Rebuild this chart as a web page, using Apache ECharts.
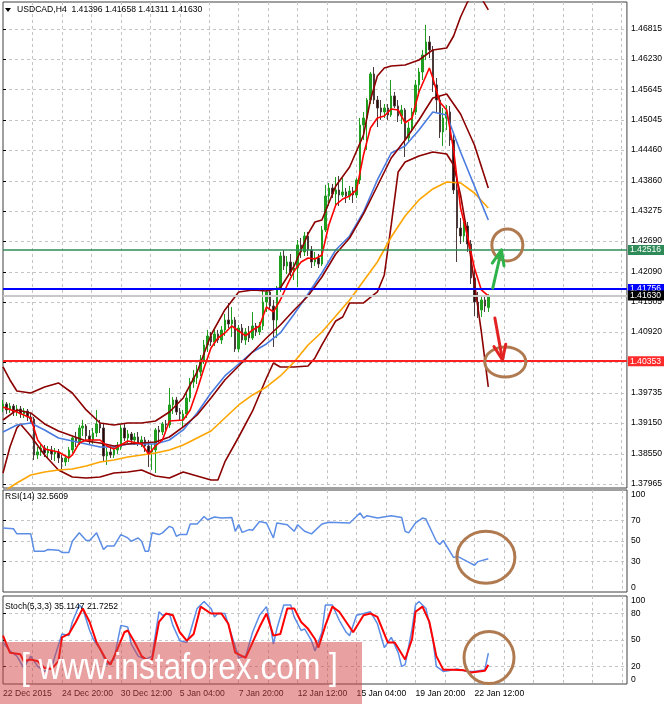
<!DOCTYPE html>
<html>
<head>
<meta charset="utf-8">
<script src="https://cdn.jsdelivr.net/npm/echarts@6.0.0/dist/echarts.min.js"></script>
<style>
html, body { margin: 0; padding: 0; background: #fff; }
#chart { width: 665px; height: 704px; }
</style>
</head>
<body>
<div id="chart"></div>
<script>
// USDCAD H4, one candle per bar: [open, close, low, high]
var candles = [
[1.39443,1.39521,1.39366,1.39599],[1.39521,1.39405,1.39327,1.39560],[1.39405,1.39482,1.39346,1.39541],[1.39482,1.39366,1.39288,1.39521],
[1.39366,1.39424,1.39288,1.39502],[1.39424,1.39327,1.39249,1.39482],[1.39327,1.39385,1.39249,1.39443],[1.39385,1.39268,1.39191,1.39424],
[1.39268,1.39229,1.39152,1.39346],[1.39229,1.38529,1.38432,1.39268],[1.38529,1.38588,1.38451,1.38685],[1.38588,1.38665,1.38510,1.38743],
[1.38665,1.38568,1.38490,1.38724],[1.38568,1.38627,1.38471,1.38704],[1.38627,1.38549,1.38432,1.38704],[1.38549,1.38588,1.38413,1.38665],
[1.38588,1.38471,1.38374,1.38646],[1.38471,1.38393,1.38238,1.38529],[1.38393,1.38471,1.38315,1.38529],[1.38471,1.38627,1.38393,1.38685],
[1.38627,1.38860,1.38568,1.38899],[1.38860,1.38782,1.38685,1.38977],[1.38782,1.39054,1.38724,1.39113],[1.39054,1.39093,1.38899,1.39210],
[1.39093,1.38899,1.38821,1.39132],[1.38899,1.38821,1.38743,1.39016],[1.38821,1.38957,1.38743,1.39054],[1.38957,1.39132,1.38879,1.39405],
[1.39132,1.39054,1.38957,1.39210],[1.39054,1.38510,1.38393,1.39132],[1.38510,1.38588,1.38335,1.38665],[1.38588,1.38529,1.38471,1.38704],
[1.38529,1.38627,1.38471,1.38685],[1.38627,1.38685,1.38549,1.38782],[1.38685,1.39054,1.38627,1.39113],[1.39054,1.38860,1.38802,1.39132],
[1.38860,1.38938,1.38763,1.39016],[1.38938,1.38821,1.38743,1.38977],[1.38821,1.38879,1.38724,1.38957],[1.38879,1.38763,1.38704,1.38977],
[1.38763,1.38821,1.38685,1.38899],[1.38821,1.38704,1.38588,1.38879],[1.38704,1.38588,1.38296,1.38821],[1.38588,1.38627,1.38238,1.38743],
[1.38627,1.39016,1.38179,1.39054],[1.39016,1.38977,1.38743,1.39093],[1.38977,1.39132,1.38918,1.39171],[1.39132,1.39113,1.39016,1.39210],
[1.39113,1.39502,1.39054,1.39833],[1.39502,1.39599,1.39327,1.39658],[1.39599,1.39366,1.39307,1.39658],[1.39366,1.39327,1.39210,1.39443],
[1.39210,1.39327,1.39054,1.39405],[1.39327,1.39638,1.39249,1.39735],[1.39638,1.39949,1.39560,1.40027],[1.39949,1.40027,1.39833,1.40183],
[1.40027,1.40144,1.39910,1.40280],[1.40144,1.40377,1.40066,1.40474],[1.40377,1.40669,1.40299,1.40766],[1.40669,1.40844,1.40533,1.40961],
[1.40844,1.40727,1.40649,1.40922],[1.40727,1.40883,1.40649,1.40961],[1.40883,1.40766,1.40708,1.40961],[1.40766,1.40961,1.40688,1.41038],
[1.40961,1.41155,1.40844,1.41272],[1.41155,1.41077,1.40999,1.41486],[1.41077,1.41155,1.40824,1.41408],[1.41155,1.40591,1.40533,1.41213],
[1.40591,1.40999,1.40533,1.41058],[1.40999,1.40766,1.40708,1.41077],[1.40766,1.40922,1.40669,1.40999],[1.40922,1.40805,1.40727,1.41038],
[1.40805,1.41038,1.40766,1.41311],[1.41038,1.40922,1.40844,1.41097],[1.40922,1.41038,1.40863,1.41116],[1.41038,1.41505,1.40961,1.41739],
[1.41505,1.41700,1.41311,1.41777],[1.41700,1.41427,1.41350,1.41739],[1.41427,1.41155,1.40630,1.41544],[1.41155,1.41777,1.40805,1.41816],
[1.41777,1.42400,1.41700,1.42478],[1.42400,1.42205,1.42128,1.42517],[1.42205,1.42283,1.42050,1.42400],[1.42283,1.42089,1.42011,1.42439],
[1.42089,1.42166,1.41933,1.42283],[1.42166,1.42614,1.41797,1.42711],[1.42614,1.42478,1.42361,1.42750],[1.42478,1.42789,1.42400,1.42867],
[1.42789,1.42517,1.42400,1.42867],[1.42517,1.42283,1.42166,1.42594],[1.42283,1.42361,1.42205,1.42478],[1.42361,1.42244,1.42166,1.42439],
[1.42244,1.42906,1.42205,1.42983],[1.42906,1.43567,1.42867,1.43781],[1.43567,1.43722,1.43372,1.43820],[1.43722,1.43606,1.43528,1.43800],
[1.43606,1.43684,1.43392,1.43936],[1.43684,1.43586,1.43372,1.43956],[1.43586,1.43645,1.43547,1.43917],[1.43645,1.43567,1.43431,1.43722],
[1.43567,1.43664,1.43489,1.43761],[1.43664,1.43586,1.43431,1.43742],[1.43586,1.43878,1.43528,1.43917],[1.43878,1.44948,1.43800,1.45084],
[1.44948,1.45084,1.44656,1.45201],[1.45084,1.45434,1.44462,1.45473],[1.45434,1.45940,1.45356,1.45979],[1.45940,1.45434,1.45356,1.46076],
[1.45434,1.45278,1.44909,1.45512],[1.45278,1.45201,1.45045,1.45434],[1.45201,1.45278,1.45084,1.45356],[1.45278,1.45142,1.45045,1.45356],
[1.45142,1.45512,1.45103,1.45823],[1.45512,1.45317,1.45278,1.45590],[1.45317,1.45123,1.45006,1.45434],[1.45123,1.45240,1.44967,1.45337],
[1.45240,1.44695,1.44325,1.45278],[1.44695,1.44889,1.44617,1.45006],[1.44889,1.45201,1.44812,1.45278],[1.45201,1.45726,1.45142,1.45823],
[1.45726,1.45979,1.45512,1.46056],[1.45979,1.46309,1.45823,1.46407],[1.46309,1.46562,1.46212,1.46893],[1.46562,1.46407,1.46251,1.46679],
[1.46407,1.45726,1.45590,1.46484],[1.45726,1.45434,1.45201,1.45862],[1.45434,1.44812,1.44695,1.45512],[1.44812,1.45084,1.44539,1.45278],
[1.45084,1.45201,1.44851,1.45337],[1.45201,1.44656,1.44539,1.45317],[1.44656,1.43684,1.43606,1.44812],[1.43684,1.42944,1.42283,1.43917],
[1.42944,1.42789,1.42633,1.43139],[1.42789,1.42983,1.42672,1.43061],[1.42983,1.42633,1.42478,1.43061],[1.42633,1.41972,1.41855,1.42711],
[1.41972,1.41505,1.41233,1.42166],[1.41505,1.41350,1.41194,1.41700],[1.41350,1.41544,1.41213,1.41602],[1.41544,1.41427,1.41311,1.41622],
[1.41396,1.41630,1.41311,1.41658]
];

// indicator lines: [bar, value]
var maFast = [[0,1.39463],[4,1.39366],[8,1.39249],[10,1.38821],[12,1.38646],[16,1.38588],[19,1.38471],[20,1.38529],[22,1.38763],[24,1.38821],
[28,1.38821],[30,1.38704],[32,1.38646],[36,1.38802],[40,1.38743],[42,1.38549],[44,1.38704],[46,1.38821],[48,1.39191],[52,1.39210],
[54,1.39405],[56,1.39794],[58,1.40221],[60,1.40610],[62,1.40805],[64,1.40902],[66,1.41038],[68,1.40941],[70,1.40844],[72,1.40961],
[74,1.41038],[76,1.41408],[78,1.41311],[80,1.41544],[82,1.41836],[84,1.42108],[86,1.42283],[88,1.42361],[90,1.42341],[92,1.42419],
[94,1.43003],[96,1.43392],[98,1.43508],[100,1.43567],[102,1.43684],[104,1.44364],[106,1.44889],[108,1.45084],[110,1.45123],[112,1.45259],
[114,1.45240],[116,1.44987],[118,1.45084],[120,1.45590],[122,1.45901],[123,1.46056],[124,1.45862],[126,1.45395],[128,1.45240],[130,1.44462],
[132,1.43333],[134,1.42789],[136,1.42166],[138,1.41739],[140,1.41622]];
var maMid = [[0,1.38977],[4,1.39113],[8,1.39152],[12,1.39016],[16,1.38860],[20,1.38802],[24,1.38743],[28,1.38685],[32,1.38685],[36,1.38743],
[40,1.38743],[44,1.38743],[48,1.38821],[52,1.39016],[56,1.39346],[60,1.39735],[64,1.40066],[68,1.40299],[72,1.40533],[76,1.40688],
[80,1.40902],[84,1.41272],[88,1.41661],[92,1.42069],[96,1.42517],[100,1.42789],[104,1.43256],[108,1.43878],[112,1.44403],[116,1.44539],
[120,1.44851],[124,1.45201],[128,1.45142],[132,1.44423],[136,1.43761],[140,1.43100]];
var maSlow = [[0,1.37810],[4,1.37984],[8,1.38140],[12,1.38199],[16,1.38238],[20,1.38257],[24,1.38315],[28,1.38393],[32,1.38432],[36,1.38490],
[40,1.38529],[44,1.38568],[48,1.38627],[52,1.38724],[56,1.38860],[60,1.38996],[64,1.39249],[68,1.39502],[72,1.39697],[76,1.39852],
[80,1.40066],[84,1.40338],[88,1.40669],[92,1.40922],[96,1.41233],[100,1.41544],[104,1.41914],[108,1.42283],[112,1.42769],[116,1.43178],
[120,1.43489],[124,1.43703],[128,1.43839],[132,1.43820],[136,1.43625],[140,1.43333]];
var bbMid = [[0,1.39210],[4,1.39405],[8,1.39346],[12,1.39132],[16,1.38996],[20,1.38899],[24,1.38802],[28,1.38763],[32,1.38704],[36,1.38743],
[40,1.38763],[44,1.38782],[48,1.38879],[52,1.39074],[56,1.39307],[60,1.39638],[64,1.39988],[68,1.40260],[72,1.40533],[76,1.40805],
[80,1.41058],[84,1.41350],[88,1.41622],[92,1.41991],[96,1.42439],[100,1.42750],[104,1.43217],[108,1.43761],[112,1.44306],[116,1.44656],
[120,1.45045],[124,1.45473],[128,1.45551],[132,1.45162],[136,1.44559],[140,1.43722]];
var bbUp = [[0,1.40241],[2,1.39988],[4,1.39774],[8,1.39735],[12,1.39852],[16,1.39930],[20,1.39735],[24,1.39405],[28,1.39152],[32,1.39113],
[36,1.39152],[40,1.39152],[44,1.39191],[48,1.39366],[52,1.39638],[56,1.40144],[60,1.40863],[64,1.41350],[68,1.41700],[72,1.41739],
[76,1.41719],[80,1.41777],[84,1.42205],[88,1.42828],[90,1.43061],[92,1.43100],[96,1.43761],[100,1.44131],[104,1.44753],[106,1.45434],
[108,1.45901],[110,1.46056],[112,1.46095],[116,1.46115],[120,1.46212],[124,1.46407],[128,1.46445],[130,1.46679],[132,1.47048],[134,1.47340],
[136,1.47496],[138,1.47418],[140,1.47185]];
var bbLow = [[0,1.38179],[2,1.38685],[4,1.39054],[5,1.39132],[8,1.38899],[12,1.38529],[16,1.38238],[20,1.38101],[24,1.38082],[28,1.38101],
[32,1.38179],[36,1.38199],[40,1.38238],[44,1.38121],[48,1.38082],[52,1.38199],[56,1.38121],[60,1.38043],[62,1.38043],[64,1.38393],
[68,1.38879],[72,1.39385],[76,1.40027],[78,1.40319],[80,1.40241],[84,1.40241],[88,1.40260],[90,1.40416],[92,1.40669],[96,1.41136],
[98,1.41213],[100,1.41486],[104,1.41486],[108,1.41700],[110,1.42030],[112,1.43003],[114,1.44034],[116,1.44228],[120,1.44345],[124,1.44423],
[128,1.44384],[130,1.44170],[132,1.43586],[134,1.42808],[136,1.41875],[138,1.40922],[140,1.39852]];

var rsi = [[0,62.8],[3,62],[4,57],[8,57],[9,40],[12,40],[13,41.7],[16,41],[17,38.8],[19,38.8],[20,49.8],[22,58],[24,50.5],[25,50.5],
[27,58],[29,41.7],[30,45],[32,45],[34,56.3],[36,53],[37,49.8],[39,53],[40,49.8],[41,40],[42,40],[43,58],[45,56.3],[46,58],[48,64.4],
[49,62.8],[50,54.7],[51,56.3],[53,56.3],[54,66.7],[56,66.7],[58,74],[59,70.9],[61,73.5],[63,72.5],[66,73],[67,59.5],[68,66],[69,58.5],
[71,61.2],[72,60.5],[74,69.2],[76,67.7],[78,53],[79,67.7],[82,66],[84,59.5],[85,66],[87,59.5],[89,57],[92,66.7],[94,68.3],[100,67.7],
[103,77.4],[104,72.5],[105,74.8],[108,72.5],[112,74.8],[115,73],[116,59.5],[117,58],[119,67.7],[121,72.5],[122,71.5],[125,49.8],
[126,46.6],[127,50.5],[130,33.7],[131,35.2],[134,29.8],[136,26.2],[137,29.8],[140,32.5609]];
var stochK = [[0,47.2],[2,37.6],[4,31.7],[6,18.2],[8,31.7],[10,20.1],[12,14.3],[14,18.2],[15,31.7],[17,56.9],[19,55],[20,70.5],[22,89.8],
[23,85.9],[25,60.8],[26,51.1],[28,39.5],[30,22.1],[32,27.9],[33,47.2],[34,66.6],[36,64.7],[37,45.3],[39,31.7],[41,27.9],[43,31.7],
[45,82.1],[46,78.2],[48,80.1],[49,66.6],[51,49.2],[53,47.2],[54,58.8],[56,85.9],[58,93.7],[60,85.9],[61,76.3],[62,80.1],[64,80.1],
[66,55],[68,29.8],[70,31.7],[72,58.8],[74,78.2],[76,87.9],[77,70.5],[78,45.3],[79,62.7],[81,89.8],[83,89.8],[84,76.3],[86,60.8],
[87,62.7],[89,49.2],[90,37.6],[92,58.8],[93,89.8],[95,89.8],[97,72.4],[99,58.8],[100,55],[102,78.2],[104,80.1],[106,82.1],[108,68.5],
[110,41.4],[112,53],[114,35.6],[115,20.1],[116,22.1],[118,62.7],[119,89.8],[120,93.7],[122,85.9],[124,51.1],[125,20.1],[127,14.3],
[130,16.3],[131,17],[134,14.3],[136,14.3],[139,16.3],[140,35.1147]];
var stochD = [[0,55],[2,35.6],[5,33.7],[6,25.9],[8,27.9],[10,25.9],[12,18.2],[14,17],[16,25.9],[17,53],[19,56.9],[21,70.5],[23,85.9],
[25,70.5],[27,47.2],[30,25.9],[31,22.1],[33,39.5],[35,58.8],[36,60.8],[38,47.2],[40,31.7],[42,25.9],[43,27.9],[45,70.5],[47,80.1],
[49,78.2],[51,58.8],[53,49.2],[55,56.9],[57,87.9],[60,80.1],[63,80.1],[65,68.5],[67,35.6],[70,29.8],[72,47.2],[74,64.7],[76,80.1],
[78,55],[80,56.9],[82,85.9],[84,85.9],[86,70.5],[88,62.7],[90,51.1],[91,41.4],[93,66.6],[95,87.9],[97,82.1],[99,70.5],[101,58.8],
[104,78.2],[106,80.1],[108,76.3],[111,47.2],[113,47.2],[116,27.9],[118,51.1],[119,82.1],[121,87.9],[123,70.5],[125,31.7],[127,16.3],
[130,16.3],[133,15.5],[135,13.2],[139,15.1],[140,21.7252]];

// axes
var barCount = 181;
var dateLabels = ['22 Dec 2015', '24 Dec 20:00', '30 Dec 12:00', '5 Jan 04:00', '7 Jan 20:00', '12 Jan 12:00', '15 Jan 04:00', '19 Jan 20:00', '22 Jan 12:00'];
var barsPerLabel = 17;
var priceTicks = [1.37965, 1.38550, 1.39150, 1.39735, 1.40330, 1.40920, 1.41505, 1.42090, 1.42690, 1.43275, 1.43860, 1.44460, 1.45045, 1.45645, 1.46230, 1.46815];
var priceMin = 1.37887, priceMax = 1.47340;
var rsiTicks = [0, 30, 50, 70, 100];
var stochTicks = [0, 20, 50, 80, 100];

// horizontal levels and their markers
var levels = [1.42516, 1.41756, 1.41630, 1.40353];

// hand drawn annotations: [bar, value]
var arrowUp = [[141.3, 1.41777], [143.8, 1.42517]];
var arrowDown = [[141.9, 1.41194], [144.1, 1.40377]];
var priceCircles = [[145.5, 1.42614], [144.9, 1.40338]];
var rsiCircle = [139.3, 34];
var stochCircle = [140.2, 30];

var font = 'Liberation Sans';
var fs = 8.6;
var dash = {color: '#c4c4c4', type: [3, 3], width: 1};
var levelStyle = [
	{line: '#2e8b57', bg: '#2e8b57', w: 1.5},
	{line: '#0000ff', bg: '#0000ff', w: 2},
	{line: '#c8c8c8', bg: '#000000', w: 2},
	{line: '#ff2020', bg: '#ff2a2a', w: 2}
];

var cats = [];
for (var i = 0; i < barCount; i++) cats.push(String(i));

var myChart = echarts.init(document.getElementById('chart'));

var timeAxis = function(gridIndex, withLabels) {
	return {
		type: 'value', gridIndex: gridIndex, min: 0, max: barCount - 1, interval: 8.5,
		axisLine: {show: false}, axisTick: {show: false},
		splitLine: {show: true, showMinLine: false, showMaxLine: false, lineStyle: dash},
		axisLabel: withLabels ? {
			show: true, margin: 5, align: 'left', color: '#000', fontSize: fs, fontFamily: font,
			showMinLabel: true, showMaxLabel: false,
			formatter: function(v) {
				var k = v / barsPerLabel;
				return (Math.abs(k - Math.round(k)) < 1e-6 && dateLabels[Math.round(k)]) ? dateLabels[Math.round(k)] : '';
			}
		} : {show: false}
	};
};

// inner: keep the end labels of an oscillator panel inside its frame
var valueAxis = function(gridIndex, min, max, labels, ticks, fmt, inner) {
	var label = {customValues: labels, margin: 4, color: '#000', fontSize: fs, fontFamily: font, formatter: fmt};
	if (inner) {
		label.verticalAlignMinLabel = 'bottom';
		label.verticalAlignMaxLabel = 'top';
	}
	return {
		type: 'value', gridIndex: gridIndex, position: 'right', min: min, max: max,
		axisLine: {show: false},
		axisTick: {show: true, length: 3, customValues: ticks, lineStyle: {color: '#000'}},
		axisLabel: label,
		splitLine: {show: true, lineStyle: dash}
	};
};

var line = function(data, color, width, xi, yi) {
	return {
		type: 'line', data: data, xAxisIndex: xi, yAxisIndex: yi,
		symbol: 'none', silent: true, lineStyle: {color: color, width: width}
	};
};

var gridBase = {left: 3, right: 38, show: true, borderColor: '#404040', borderWidth: 1};

var fastSeries = line(maFast, '#ff0000', 1.6, 1, 0);
fastSeries.markLine = {
	symbol: 'none', silent: true, precision: 5,
	data: levels.map(function(v, k) {
		return {
			yAxis: v,
			lineStyle: {color: levelStyle[k].line, width: levelStyle[k].w, type: 'solid'},
			label: {
				show: true, position: 'end', distance: 1, formatter: v.toFixed(5),
				color: '#fff', backgroundColor: levelStyle[k].bg, padding: [1, 3, 0, 2],
				fontSize: fs, fontFamily: font
			}
		};
	})
};

var option = {
	animation: false,
	backgroundColor: '#fff',
	textStyle: {fontFamily: font},
	grid: [
		Object.assign({top: 2, height: 486}, gridBase),
		Object.assign({top: 490, height: 102}, gridBase),
		Object.assign({top: 596, height: 88}, gridBase)
	],
	xAxis: [
		{type: 'category', gridIndex: 0, data: cats, boundaryGap: false, show: false},
		timeAxis(0, false),
		timeAxis(1, false),
		timeAxis(2, true)
	],
	yAxis: [
		valueAxis(0, priceMin, priceMax, priceTicks, priceTicks, function(v) { return v.toFixed(5); }, false),
		valueAxis(1, 0, 100, rsiTicks, [30, 50, 70], null, true),
		valueAxis(2, 0, 100, stochTicks, [20, 50, 80], null, true)
	],
	series: [
		{
			type: 'candlestick', xAxisIndex: 0, yAxisIndex: 0, data: candles, barWidth: 2, silent: true,
			itemStyle: {color: '#1f9e1f', color0: '#2a0505', borderColor: '#1f9e1f', borderColor0: '#4a3a3a', borderWidth: 1}
		},
		line(bbUp, '#8b0000', 1.6, 1, 0),
		line(bbLow, '#8b0000', 1.6, 1, 0),
		line(maSlow, '#ffa500', 1.6, 1, 0),
		line(maMid, '#4a7be0', 1.6, 1, 0),
		line(bbMid, '#8b0000', 1.6, 1, 0),
		fastSeries,
		line(rsi, '#5b8de6', 1.5, 2, 1),
		line(stochK, '#5b8de6', 1.5, 3, 2),
		line(stochD, '#ff0000', 2, 3, 2)
	]
};
myChart.setOption(option);

// overlay: captions, watermark and the drawn circles and arrows
var px = function(xi, yi, pt) {
	return myChart.convertToPixel({xAxisIndex: xi, yAxisIndex: yi}, pt);
};

var arrow = function(pts, color) {
	var p0 = px(1, 0, pts[0]), p1 = px(1, 0, pts[1]);
	var dx = p1[0] - p0[0], dy = p1[1] - p0[1];
	var len = Math.sqrt(dx * dx + dy * dy);
	var bx = -dx / len, by = -dy / len, L = 16, t = 22 * Math.PI / 180;
	var wing = function(s) {
		var c = Math.cos(s * t), sn = Math.sin(s * t);
		return [p1[0] + L * (bx * c - by * sn), p1[1] + L * (bx * sn + by * c)];
	};
	return [
		{type: 'line', z: 60, shape: {x1: p0[0], y1: p0[1], x2: p1[0], y2: p1[1]}, style: {stroke: color, lineWidth: 3, lineCap: 'round'}},
		{type: 'polyline', z: 60, shape: {points: [wing(1), p1, wing(-1)]}, style: {stroke: color, lineWidth: 3, fill: null, lineJoin: 'round', lineCap: 'round'}}
	];
};

var ring = function(c, rx, ry) {
	return {type: 'ellipse', z: 60, shape: {cx: c[0], cy: c[1], rx: rx, ry: ry}, style: {fill: 'none', stroke: '#b07a50', lineWidth: 3}};
};

var caption = function(x, y, text) {
	return {type: 'text', z: 60, x: x, y: y, style: {text: text, fill: '#000', fontSize: fs, fontFamily: font, verticalAlign: 'middle', textVerticalAlign: 'middle'}};
};

var elements = [
	{type: 'polygon', z: 60, shape: {points: [[5, 8], [11, 8], [8, 12]]}, style: {fill: '#000'}},
	caption(17, 10, 'USDCAD,H4  1.41396 1.41658 1.41311 1.41630'),
	caption(5, 497, 'RSI(14) 32.5609'),
	caption(5, 607, 'Stoch(5,3,3) 35.1147 21.7252'),
	ring(px(1, 0, priceCircles[0]), 15.5, 16),
	ring(px(1, 0, priceCircles[1]), 20.5, 15),
	ring(px(2, 1, rsiCircle), 29, 26),
	ring(px(3, 2, stochCircle), 25, 26)
].concat(arrow(arrowUp, '#2db34a'), arrow(arrowDown, '#e32222'));

elements.push({type: 'rect', z: 80, shape: {x: 0, y: 642, width: 362, height: 62}, style: {fill: 'rgba(210,65,65,0.5)'}});
elements.push({
	type: 'text', z: 81, x: 21, y: 669.5, scaleX: 0.88,
	style: {text: '[ www.instaforex.com ]', fill: '#fff', fontSize: 36, fontFamily: font, verticalAlign: 'middle', textVerticalAlign: 'middle'}
});

myChart.setOption({graphic: {elements: elements}});
</script>
</body>
</html>
